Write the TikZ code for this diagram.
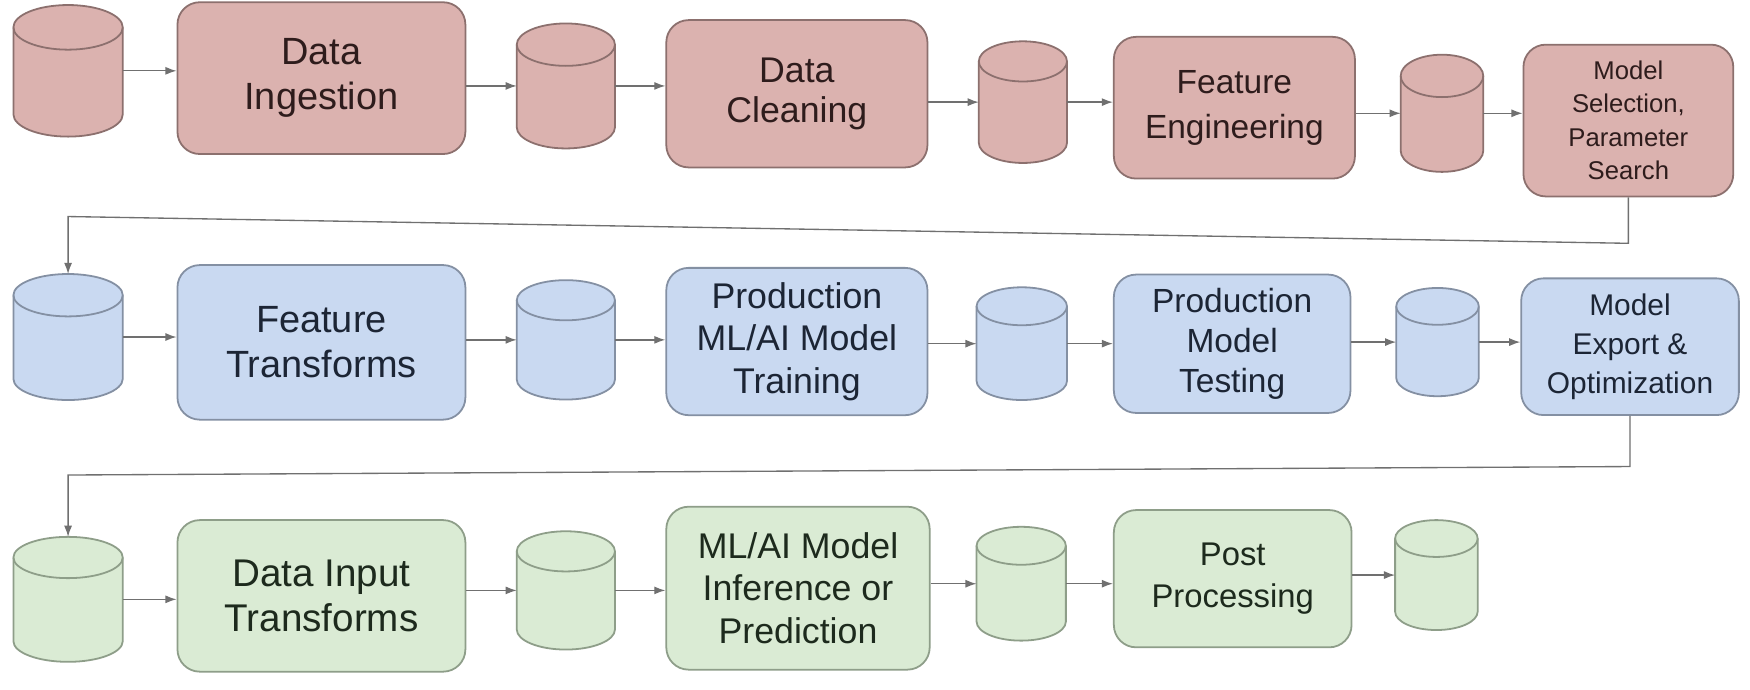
\documentclass[tikz,border=0pt]{standalone}
\usepackage{fontspec}
\setmainfont{Liberation Sans}
\usetikzlibrary{arrows.meta}
\definecolor{rfill}{HTML}{DBB2AF}
\definecolor{rdraw}{HTML}{8C706E}
\definecolor{rtext}{HTML}{2E1C1C}
\definecolor{bfill}{HTML}{C9D9F1}
\definecolor{bdraw}{HTML}{8490A3}
\definecolor{btext}{HTML}{1C2535}
\definecolor{gfill}{HTML}{DAEBD4}
\definecolor{gdraw}{HTML}{8E9E89}
\definecolor{gtext}{HTML}{1D2A1D}
\definecolor{conn}{HTML}{707070}
\tikzset{
  redc/.style={fill=rfill, draw=rdraw, line width=0.8pt},
  bluec/.style={fill=bfill, draw=bdraw, line width=0.8pt},
  greenc/.style={fill=gfill, draw=gdraw, line width=0.8pt},
  redb/.style={redc, text=rtext},
  blueb/.style={bluec, text=btext},
  greenb/.style={greenc, text=gtext},
  procbox/.style={rounded corners=10pt, align=center, inner sep=0pt},
  arr/.style={draw=conn, line width=0.6pt, -{Latex[length=5pt,width=3.6pt]}},
}
\newcommand\procnode[7]{%
  \pgfmathsetmacro\mybw{(#3-#2)/2}%
  \pgfmathsetmacro\mybh{(#5-#4)/2}%
  \pgfmathsetmacro\mybx{(#2+#3)/2}%
  \pgfmathsetmacro\myby{-(#4+#5)/2}%
  \node[procbox,#6,minimum width=\mybw pt,minimum height=\mybh pt] (#1) at (\mybx,\myby) {#7};}
\newcommand\dbcyl[7]{%
  \pgfmathsetmacro\mycw{(#3-#2)/2}%
  \pgfmathsetmacro\mych{(#5-#4)/2}%
  \pgfmathsetmacro\mycx{(#2+#3)/2}%
  \pgfmathsetmacro\mycy{-(#4+#5)/2}%
  \node[inner sep=0pt, outer sep=0pt, minimum width=\mycw pt, minimum height=\mych pt] (#1) at (\mycx,\mycy) {};
  \path[#7] (#2,-#4-#6) -- (#2,-#5+#6) arc[start angle=180, end angle=360, x radius=\mycw, y radius=#6] -- (#3,-#4-#6) arc[start angle=0, end angle=180, x radius=\mycw, y radius=#6] -- cycle;
  \draw[#7, fill=none] (#3,-#4-#6) arc[start angle=0, end angle=-180, x radius=\mycw, y radius=#6];}
\begin{document}
\begin{tikzpicture}[x=0.5pt, y=0.5pt]
\useasboundingbox[fill=white] (0,0) rectangle (1568,-618);
% Row 1
\dbcyl{c1}{12}{110}{4.5}{122.4}{20}{redc}
\procnode{b1}{159}{417}{2}{138}{redb, font=\fontsize{17}{20}\selectfont}{Data\\Ingestion}
\dbcyl{c2}{463}{551}{21}{133}{19}{redc}
\procnode{b2}{597}{831}{18}{150}{redb, font=\fontsize{16}{18}\selectfont}{Data\\Cleaning}
\dbcyl{c3}{877}{956}{37}{146}{18}{redc}
\procnode{b3}{998}{1214}{33}{160}{redb, font=\fontsize{15}{20}\selectfont}{Feature\\Engineering}
\dbcyl{c4}{1255}{1329}{49}{154}{19}{redc}
\procnode{b4}{1365}{1553}{40}{176}{redb, font=\fontsize{11.5}{15}\selectfont}{Model\\Selection,\\Parameter\\Search}
% Row 2
\dbcyl{c5}{12}{110}{245.5}{358.4}{19}{bluec}
\procnode{b5}{159}{417}{237.5}{376}{blueb, font=\fontsize{17}{20}\selectfont}{Feature\\Transforms}
\dbcyl{c6}{463}{551}{251}{358}{18}{bluec}
\procnode{b6}{597}{831}{240}{372}{blueb, font=\fontsize{16}{19}\selectfont}{Production\\ML/AI Model\\Training}
\dbcyl{c7}{875}{956}{257.4}{358.4}{17}{bluec}
\procnode{b7}{998}{1210}{246}{370}{blueb, font=\fontsize{15}{18}\selectfont}{Production\\Model\\Testing}
\dbcyl{c8}{1251}{1325}{258}{355}{16.5}{bluec}
\procnode{b8}{1363}{1558}{249.4}{371.9}{blueb, font=\fontsize{13.4}{17.5}\selectfont}{Model\\Export \&\\Optimization}
% Row 3
\dbcyl{c9}{12}{110}{481}{593}{18.5}{greenc}
\procnode{b9}{159}{417}{466}{601.8}{greenb, font=\fontsize{17.3}{20}\selectfont}{Data Input\\Transforms}
\dbcyl{c10}{463}{551}{476}{582}{18}{greenc}
\procnode{b10}{597}{833}{454}{600}{greenb, font=\fontsize{16}{19}\selectfont}{ML/AI Model\\Inference or\\Prediction}
\dbcyl{c11}{875}{955}{472}{574}{17}{greenc}
\procnode{b11}{998}{1211}{457}{580}{greenb, font=\fontsize{14.7}{19}\selectfont}{Post\\Processing}
\dbcyl{c12}{1250}{1324}{466}{564.5}{16.5}{greenc}
% Row 1 connectors
\draw[arr] (c1.east) -- (c1.east -| b1.west);
\draw[arr] (b1.east |- c2.west) -- (c2.west);
\draw[arr] (c2.east) -- (c2.east -| b2.west);
\draw[arr] (b2.east |- c3.west) -- (c3.west);
\draw[arr] (c3.east) -- (c3.east -| b3.west);
\draw[arr] (b3.east |- c4.west) -- (c4.west);
\draw[arr] (c4.east) -- (c4.east -| b4.west);
% Row 2 connectors
\draw[arr] (c5.east) -- (c5.east -| b5.west);
\draw[arr] (b5.east |- c6.west) -- (c6.west);
\draw[arr] (c6.east) -- (c6.east -| b6.west);
\draw[arr] (b6.east |- c7.west) -- (c7.west);
\draw[arr] (c7.east) -- (c7.east -| b7.west);
\draw[arr] (b7.east |- c8.west) -- (c8.west);
\draw[arr] (c8.east) -- (c8.east -| b8.west);
% Row 3 connectors
\draw[arr] (c9.east) -- (c9.east -| b9.west);
\draw[arr] (b9.east |- c10.west) -- (c10.west);
\draw[arr] (c10.east) -- (c10.east -| b10.west);
\draw[arr] (b10.east |- c11.west) -- (c11.west);
\draw[arr] (c11.east) -- (c11.east -| b11.west);
\draw[arr] (b11.east |- c12.west) -- (c12.west);
% Return connectors
\coordinate (r1a) at (1459,-218);
\coordinate (r1b) at (61,-194);
\draw[arr] (b4.south) -- (r1a) -- (r1b) -- (c5.north);
\coordinate (r2a) at (1460.5,-418);
\coordinate (r2b) at (61,-425.6);
\draw[arr] (b8.south) -- (r2a) -- (r2b) -- (c9.north);
\end{tikzpicture}
\end{document}
